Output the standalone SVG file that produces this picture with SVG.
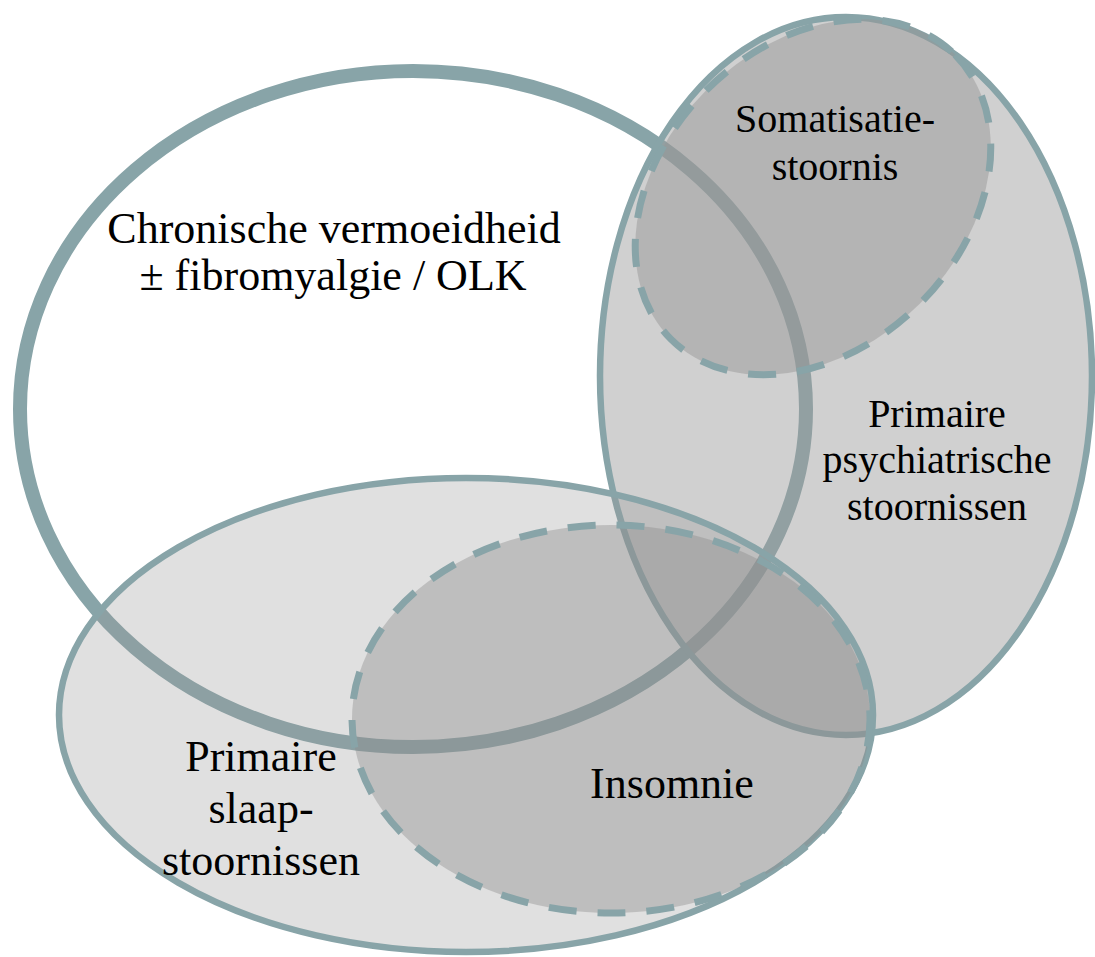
<svg xmlns="http://www.w3.org/2000/svg" width="1095" height="957" viewBox="0 0 1095 957">
<style>
.lbl{font-family:"Liberation Serif","Times New Roman",serif;fill:#000;text-anchor:middle}
.thick{stroke:#88a4a8;stroke-width:14;fill:#ffffff}
.solid{stroke:#88a4a8;stroke-width:6.5}
.dash{stroke:#88a4a8;stroke-width:7;stroke-dasharray:28 21}
</style>
<rect width="1095" height="957" fill="#ffffff"/>
<g id="chronisch">
  <ellipse cx="413" cy="409" rx="393" ry="338" class="thick"/>
  <text class="lbl" font-size="44" x="334" y="243">Chronische vermoeidheid</text>
  <text class="lbl" font-size="44" x="333" y="290">± fibromyalgie / OLK</text>
</g>
<g id="psychiatrisch">
  <ellipse cx="846" cy="376" rx="246" ry="359" class="solid" fill="#9d9d9d" fill-opacity="0.48"/>
  <text class="lbl" font-size="40" x="937" y="427">Primaire</text>
  <text class="lbl" font-size="40" x="937" y="473">psychiatrische</text>
  <text class="lbl" font-size="40" x="937" y="520">stoornissen</text>
</g>
<g id="somatisatie">
  <ellipse cx="813" cy="197" rx="201" ry="151" transform="rotate(-45 813 197)" class="dash" fill="#969696" fill-opacity="0.48"/>
  <text class="lbl" font-size="40" x="835" y="132">Somatisatie-</text>
  <text class="lbl" font-size="40" x="835" y="180">stoornis</text>
</g>
<g id="slaap">
  <ellipse cx="466" cy="715" rx="407" ry="237" class="solid" fill="#989898" fill-opacity="0.3"/>
  <text class="lbl" font-size="44" x="261" y="771">Primaire</text>
  <text class="lbl" font-size="44" x="261" y="823">slaap-</text>
  <text class="lbl" font-size="44" x="261" y="875">stoornissen</text>
</g>
<g id="insomnie">
  <ellipse cx="611" cy="719" rx="259" ry="194" class="dash" fill="#8b8b8b" fill-opacity="0.4"/>
  <text class="lbl" font-size="44" x="672" y="798">Insomnie</text>
</g>
</svg>
